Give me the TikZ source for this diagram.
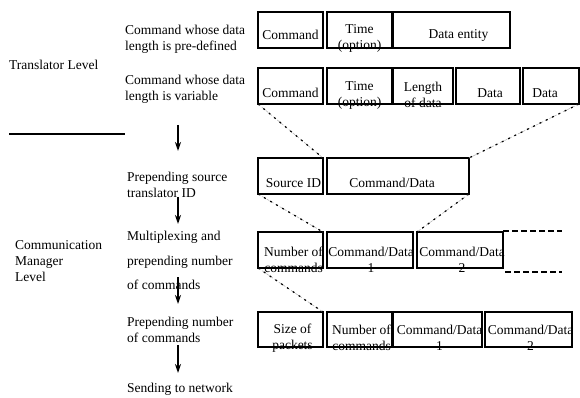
\documentclass[tikz,border=0pt]{standalone}
\usepackage{fontspec}
\setmainfont{Liberation Serif}
\usetikzlibrary{calc,arrows.meta}
\newcommand\mybox[5]{\node[box, minimum width=#4pt, minimum height=#5pt] (#1) at (#2,#3) {};}
\begin{document}
\begin{tikzpicture}[x=1pt,y=-1pt,
  box/.style={draw, line width=1.9pt, rectangle, inner sep=0pt, outer sep=0pt, anchor=north west},
  txt/.style={font=\fontsize{13.5}{16}\selectfont, inner sep=0pt, align=center},
  ltxt/.style={font=\fontsize{13.5}{16}\selectfont, inner sep=0pt, align=left, anchor=west},
  conn/.style={gray!55, line width=0.6pt, dash pattern=on 3pt off 2pt,
    postaction={draw=black, line width=1.2pt, dash pattern=on 2pt off 5pt}},
  flow/.style={line width=1.6pt, -{Stealth[length=9pt,width=6pt]}},
  etc/.style={line width=2.6pt, dash pattern=on 6pt off 3pt}]
\useasboundingbox (0,0) rectangle (580,398);

% ---- left column texts
\node[ltxt] (t1) at (125,39) {Command whose data\\length is pre-defined};
\node[ltxt] (tl) at (9,65) {Translator Level};
\node[ltxt] (t2) at (125,89) {Command whose data\\length is variable};
\node[ltxt] (t3) at (127,185) {Prepending source\\translator ID};
\node[ltxt] (t4a) at (127,237) {Multiplexing and};
\node[ltxt] (t4b) at (127,262) {prepending number};
\node[ltxt] (t4c) at (127,285) {of commands};
\node[ltxt] (cm) at (15,261) {Communication\\Manager\\Level};
\node[ltxt] (t5) at (127,330) {Prepending number\\of commands};
\node[ltxt] (t6) at (127,389) {Sending to network};

% separator line
\coordinate (s1) at (9,134);
\coordinate (s2) at (125,134);
\draw[line width=1.5pt] (s1) -- (s2);

% flow arrows
\coordinate (a1s) at (178,125); \coordinate (a1e) at (178,151);
\coordinate (a2s) at (178,197); \coordinate (a2e) at (178,224);
\coordinate (a3s) at (178,277); \coordinate (a3e) at (178,304);
\coordinate (a4s) at (178,345); \coordinate (a4e) at (178,373);
\draw[flow] (a1s) -- (a1e);
\draw[flow] (a2s) -- (a2e);
\draw[flow] (a3s) -- (a3e);
\draw[flow] (a4s) -- (a4e);

% ---- row 1
\mybox{r1a}{258}{12}{65}{36}
\mybox{r1b}{327}{12}{65}{36}
\mybox{r1c}{393}{12}{117}{36}
\node[txt] (l1a) at ($(r1a.north)+(0,23)$) {Command};
\node[txt] (l1b) at ($(r1b.north)+(0,26)$) {Time\\(option)};
\node[txt] (l1c) at ($(r1c.north)+(7,23)$) {Data entity};

% ---- row 2
\mybox{r2a}{258}{68}{65}{36}
\mybox{r2b}{327}{68}{65}{36}
\mybox{r2c}{393}{68}{60}{36}
\mybox{r2d}{456}{68}{64}{36}
\mybox{r2e}{523}{68}{56}{36}
\node[txt] (l2a) at ($(r2a.north)+(0,25)$) {Command};
\node[txt] (l2b) at ($(r2b.north)+(0,27)$) {Time\\(option)};
\node[txt] (l2c) at ($(r2c.north)+(0,27)$) {Length\\of data};
\node[txt] (l2d) at ($(r2d.north)+(2,25)$) {Data};
\node[txt] (l2e) at ($(r2e.north)+(-6,25)$) {Data};

% ---- row 3
\mybox{r3a}{258}{158}{65}{36}
\mybox{r3b}{327}{158}{142}{36}
\node[txt] (l3a) at ($(r3a.north)+(3,25)$) {Source ID};
\node[txt] (l3b) at ($(r3b.north)+(-6,25)$) {Command/Data};

% ---- row 4
\mybox{r4a}{258}{232}{65}{36}
\mybox{r4b}{327}{232}{86}{36}
\mybox{r4c}{417}{232}{86}{36}
\node[txt] (l4a) at ($(r4a.north)+(3,28)$) {Number of\\commands};
\node[txt] (l4b) at ($(r4b.north)+(1,28)$) {Command/Data\\1};
\node[txt] (l4c) at ($(r4c.north)+(2,28)$) {Command/Data\\2};
\coordinate (d1s) at (503,231); \coordinate (d1e) at (562,231);
\coordinate (d2s) at (505,272); \coordinate (d2e) at (562,272);
\draw[etc] (d1s) -- (d1e);
\draw[etc] (d2s) -- (d2e);

% ---- row 5
\mybox{r5a}{258}{312}{65}{35}
\mybox{r5b}{327}{312}{65}{35}
\mybox{r5c}{393}{312}{89}{35}
\mybox{r5d}{485}{312}{87}{35}
\node[txt] (l5a) at ($(r5a.north)+(2,26)$) {Size of\\packets};
\node[txt] (l5b) at ($(r5b.north)+(2,26)$) {Number of\\commands};
\node[txt] (l5c) at ($(r5c.north)+(2,26)$) {Command/Data\\1};
\node[txt] (l5d) at ($(r5d.north)+(2,26)$) {Command/Data\\2};

% ---- connectors
\draw[conn] (r2a.south west) -- (r3a.north east);
\draw[conn] (r2e.south east) -- (r3b.north east);
\draw[conn] (r3a.south west) -- (r4a.north east);
\draw[conn] (r3b.south east) -- (r4c.north west);
\draw[conn] (r4a.south west) -- (r5a.north east);
\end{tikzpicture}
\end{document}
